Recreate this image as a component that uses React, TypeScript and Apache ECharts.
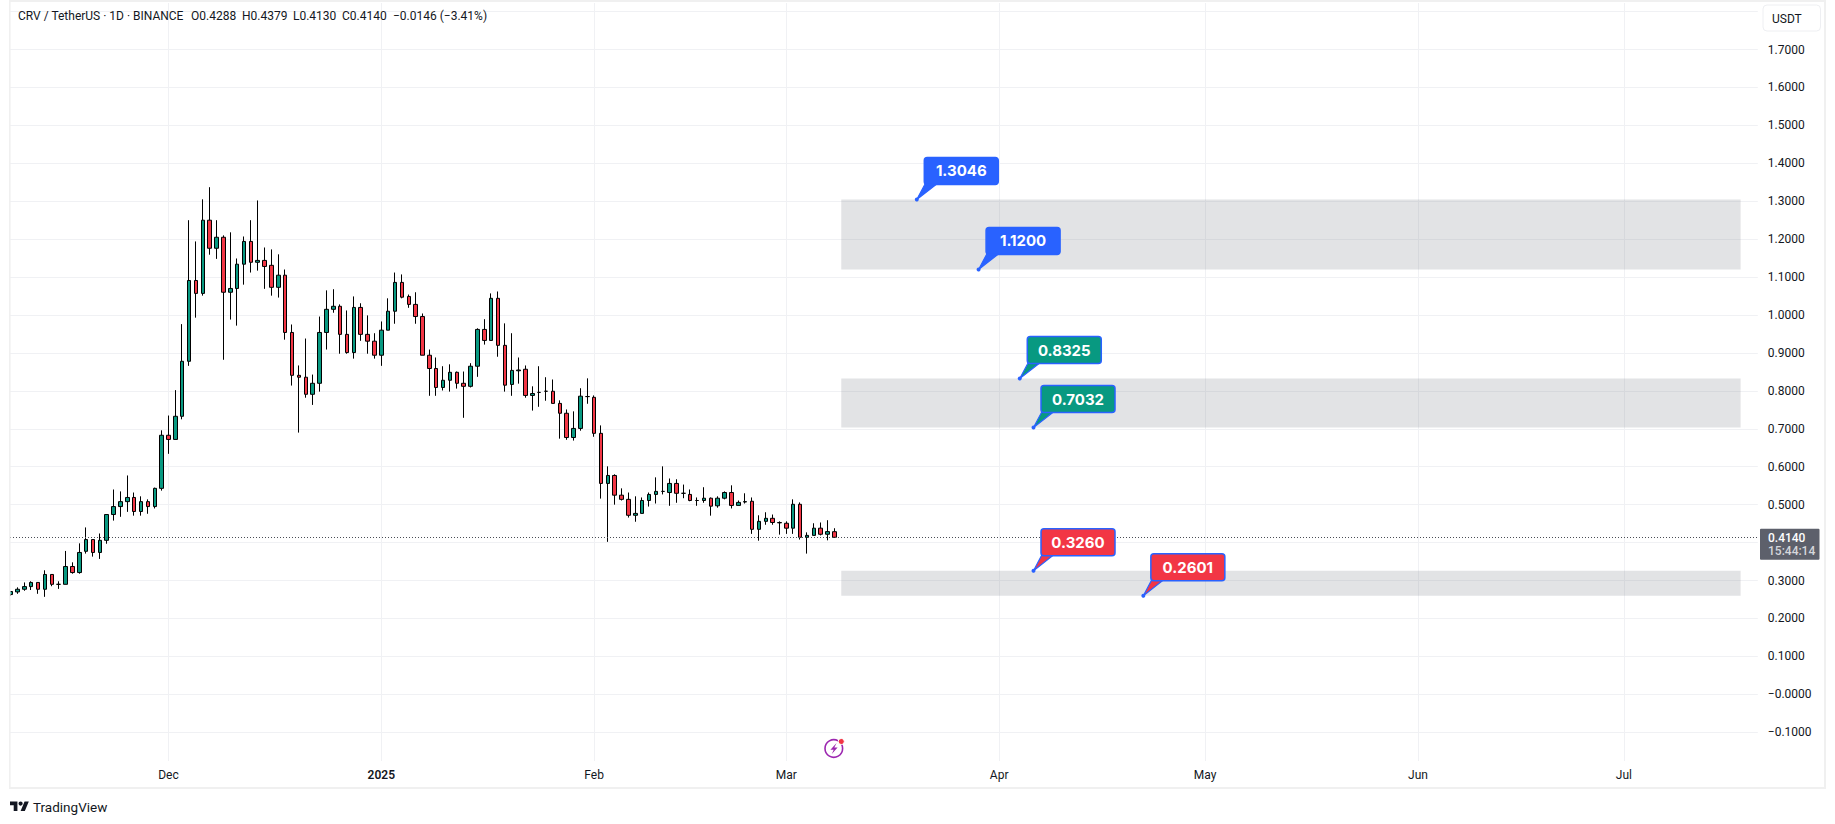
import { useEffect, useRef } from 'react';
import * as echarts from 'echarts';

// first bar is 8 Nov 2024, axis runs on into the empty future part
const firstDay = Date.UTC(2024, 10, 8);
const dayCount = 255;
const categories = Array.from({ length: dayCount }, (_, i) =>
  new Date(firstDay + i * 86400000).toISOString().slice(0, 10),
);

const monthLabels: Record<string, string> = {
  '2024-12-01': 'Dec',
  '2025-01-01': '2025',
  '2025-02-01': 'Feb',
  '2025-03-01': 'Mar',
  '2025-04-01': 'Apr',
  '2025-05-01': 'May',
  '2025-06-01': 'Jun',
  '2025-07-01': 'Jul',
};

const opens = [
  0.263, 0.27, 0.277, 0.284, 0.295, 0.277, 0.316, 0.29, 0.29, 0.337, 0.321, 0.377, 0.408, 0.374, 0.406, 0.474,
  0.495, 0.508, 0.519, 0.482, 0.508, 0.495, 0.543, 0.683, 0.672, 0.733, 0.878, 1.091, 1.057, 1.25, 1.176, 1.205,
  1.06, 1.07, 1.134, 1.194, 1.139, 1.144, 1.131, 1.073, 1.105, 0.954, 0.841, 0.836, 0.791, 0.82, 0.954, 1.015,
  1.023, 0.949, 0.901, 1.02, 0.949, 0.931, 0.894, 0.96, 1.01, 1.086, 1.049, 1.028, 0.996, 0.894, 0.859, 0.809,
  0.828, 0.849, 0.82, 0.812, 0.865, 0.962, 0.933, 1.044, 0.92, 0.817, 0.853, 0.857, 0.788, 0.796, 0.799, 0.799,
  0.767, 0.741, 0.677, 0.701, 0.785, 0.783, 0.688, 0.556, 0.577, 0.525, 0.514, 0.472, 0.477, 0.511, 0.527, 0.535,
  0.532, 0.556, 0.53, 0.527, 0.511, 0.511, 0.517, 0.497, 0.517, 0.532, 0.498, 0.507, 0.509, 0.435, 0.456, 0.464,
  0.453, 0.451, 0.438, 0.501, 0.414, 0.419, 0.438, 0.422, 0.4288,
];
const closes = [
  0.271, 0.277, 0.284, 0.295, 0.277, 0.316, 0.29, 0.29, 0.337, 0.321, 0.374, 0.408, 0.374, 0.406, 0.474, 0.495,
  0.508, 0.519, 0.482, 0.508, 0.495, 0.543, 0.683, 0.672, 0.733, 0.878, 1.091, 1.057, 1.25, 1.176, 1.205, 1.06,
  1.07, 1.134, 1.194, 1.139, 1.144, 1.128, 1.073, 1.105, 0.954, 0.841, 0.836, 0.791, 0.82, 0.954, 1.015, 1.023,
  0.949, 0.901, 1.02, 0.949, 0.931, 0.894, 0.96, 1.01, 1.086, 1.047, 1.028, 0.996, 0.894, 0.859, 0.809, 0.828,
  0.849, 0.82, 0.812, 0.865, 0.962, 0.933, 1.044, 0.92, 0.815, 0.854, 0.855, 0.788, 0.793, 0.796, 0.799, 0.767,
  0.741, 0.677, 0.701, 0.786, 0.785, 0.688, 0.556, 0.577, 0.525, 0.514, 0.472, 0.477, 0.511, 0.527, 0.535, 0.535,
  0.556, 0.53, 0.53, 0.511, 0.511, 0.517, 0.496, 0.517, 0.532, 0.498, 0.506, 0.508, 0.435, 0.456, 0.464, 0.453,
  0.452, 0.438, 0.501, 0.414, 0.419, 0.438, 0.422, 0.429, 0.414,
];
const lows = [
  0.26, 0.265, 0.273, 0.275, 0.265, 0.257, 0.285, 0.278, 0.29, 0.318, 0.318, 0.371, 0.363, 0.357, 0.397, 0.458,
  0.468, 0.481, 0.471, 0.471, 0.476, 0.49, 0.537, 0.634, 0.672, 0.725, 0.866, 0.993, 1.051, 1.159, 1.148, 0.882,
  0.988, 0.972, 1.08, 1.112, 1.117, 1.069, 1.051, 1.046, 0.935, 0.814, 0.69, 0.782, 0.763, 0.798, 0.909, 1.006,
  0.898, 0.898, 0.885, 0.932, 0.898, 0.885, 0.866, 0.96, 0.977, 1.044, 1.019, 0.977, 0.894, 0.787, 0.787, 0.801,
  0.798, 0.806, 0.729, 0.809, 0.837, 0.922, 0.933, 0.89, 0.798, 0.787, 0.819, 0.782, 0.748, 0.758, 0.774, 0.767,
  0.674, 0.671, 0.669, 0.695, 0.766, 0.679, 0.516, 0.402, 0.5, 0.511, 0.466, 0.455, 0.477, 0.495, 0.503, 0.527,
  0.497, 0.505, 0.517, 0.509, 0.497, 0.505, 0.471, 0.492, 0.514, 0.49, 0.498, 0.503, 0.423, 0.405, 0.447, 0.447,
  0.421, 0.423, 0.423, 0.408, 0.371, 0.419, 0.419, 0.406, 0.413,
];
const highs = [
  0.271, 0.282, 0.295, 0.298, 0.295, 0.327, 0.316, 0.298, 0.378, 0.348, 0.398, 0.44, 0.408, 0.424, 0.474, 0.54,
  0.535, 0.577, 0.532, 0.522, 0.514, 0.545, 0.696, 0.735, 0.802, 0.976, 1.25, 1.194, 1.305, 1.337, 1.25, 1.21,
  1.218, 1.149, 1.207, 1.25, 1.302, 1.178, 1.173, 1.16, 1.12, 0.975, 0.867, 0.938, 0.843, 0.996, 1.065, 1.068,
  1.028, 1.012, 1.049, 1.031, 0.999, 0.952, 0.983, 1.044, 1.112, 1.107, 1.054, 1.06, 1.004, 0.909, 0.888, 0.865,
  0.87, 0.851, 0.851, 0.873, 0.965, 0.989, 1.057, 1.062, 0.978, 0.952, 0.888, 0.867, 0.812, 0.865, 0.836, 0.83,
  0.775, 0.751, 0.746, 0.807, 0.833, 0.788, 0.709, 0.601, 0.58, 0.543, 0.532, 0.522, 0.519, 0.532, 0.572, 0.601,
  0.569, 0.567, 0.553, 0.54, 0.519, 0.546, 0.519, 0.522, 0.535, 0.551, 0.511, 0.53, 0.519, 0.472, 0.48, 0.474,
  0.456, 0.456, 0.514, 0.506, 0.427, 0.451, 0.453, 0.459, 0.4379,
];

const lastClose = 0.414;
const lastIndex = 120;

const yTicks = [1.8, 1.7, 1.6, 1.5, 1.4, 1.3, 1.2, 1.1, 1, 0.9, 0.8, 0.7, 0.6, 0.5, 0.4, 0.3, 0.2, 0.1, 0, -0.1];
const yLabels = [
  '', '1.7000', '1.6000', '1.5000', '1.4000', '1.3000', '1.2000', '1.1000', '1.0000', '0.9000', '0.8000',
  '0.7000', '0.6000', '0.5000', '', '0.3000', '0.2000', '0.1000', '\u22120.0000', '\u22120.1000',
];

// grey boxes: [top price, bottom price]
const zones = [
  [1.3046, 1.12],
  [0.8325, 0.7032],
  [0.326, 0.2601],
];
const zoneStart = 121;
const zoneEnd = 252;

// callouts: anchor bar, price, text
const calloutBars = [132, 141, 147, 149, 149, 165];
const calloutPrices = [1.3046, 1.12, 0.8325, 0.7032, 0.326, 0.2601];
const calloutTexts = ['1.3046', '1.1200', '0.8325', '0.7032', '0.3260', '0.2601'];
const calloutFills = ['#2962ff', '#2962ff', '#089981', '#089981', '#f23645', '#f23645'];

const headerParts: [string, number][] = [
  ['CRV / TetherUS \u00b7 1D \u00b7 BINANCE', 18],
  ['O0.4288', 191],
  ['H0.4379', 242],
  ['L0.4130', 293],
  ['C0.4140', 342],
  ['\u22120.0146 (\u22123.41%)', 393],
];

const FONT = 'Roboto, "Noto Sans", sans-serif';
const INK = '#131722';
const GRID = '#f0f1f4';
const FRAME = '#f0f0f0';
const BLUE = '#2962ff';

echarts.graphic.registerShape(
  'tvLogo',
  echarts.graphic.extendPath('M14 22H7V11H0V4h14v18zM28 22h-8l7.5-18h8L28 22zM24 8a4 4 0 1 1-8 0a4 4 0 1 1 8 0z', {}),
);

function renderCallout(params: any, api: any) {
  const i = params.dataIndex;
  const [x, y] = api.coord([api.value(0), api.value(1)]);
  const fill = calloutFills[i];
  const bx = x + 7.5;
  const by = y - 42;
  return {
    type: 'group',
    children: [
      {
        type: 'polygon',
        shape: { points: [[x, y], [bx + 1, by + 26], [bx + 13, by + 26]] },
        style: { fill, stroke: BLUE, lineWidth: 1.2 },
      },
      {
        type: 'rect',
        shape: { x: bx, y: by, width: 74, height: 27, r: 3 },
        style: { fill, stroke: BLUE, lineWidth: 1.5 },
      },
      {
        type: 'text',
        style: {
          x: bx + 37,
          y: by + 13.5,
          text: calloutTexts[i],
          fill: '#ffffff',
          align: 'center',
          verticalAlign: 'middle',
          font: '700 15px Inter, sans-serif',
        },
      },
      { type: 'circle', shape: { cx: x, cy: y, r: 2 }, style: { fill: BLUE } },
    ],
  };
}

// dotted last-price line and its tag on the price scale
function renderPriceTag(_params: any, api: any) {
  const y = api.coord([api.value(0), api.value(1)])[1];
  const lineY = Math.floor(y) + 0.5;
  return {
    type: 'group',
    children: [
      {
        type: 'line',
        shape: { x1: 10, y1: lineY, x2: 1757.8, y2: lineY },
        style: { stroke: '#4a4d55', lineWidth: 1, lineDash: [1, 2] },
      },
      { type: 'rect', shape: { x: 1760, y: y - 8.5, width: 59.5, height: 31, r: 1 }, style: { fill: '#5d606b' } },
      {
        type: 'text',
        style: { x: 1768, y: y + 0.5, text: lastClose.toFixed(4), fill: '#ffffff', verticalAlign: 'middle', font: `500 12px ${FONT}` },
      },
      {
        type: 'text',
        style: { x: 1768, y: y + 14, text: '15:44:14', fill: '#d6d7db', verticalAlign: 'middle', font: `500 12px ${FONT}` },
      },
    ],
  };
}

export default function App() {
  const chartRef = useRef<HTMLDivElement>(null);

  useEffect(() => {
    if (!chartRef.current) return;
    const chart = echarts.init(chartRef.current, null, { renderer: 'svg' });

    chart.setOption({
      animation: false,
      backgroundColor: '#ffffff',
      textStyle: { fontFamily: FONT },
      grid: { left: 7.17, top: 3, width: 1750.6, height: 758 },
      xAxis: {
        type: 'category',
        data: categories,
        boundaryGap: true,
        axisLine: { show: false },
        axisTick: { show: false, alignWithLabel: true },
        axisLabel: {
          interval: (_i: number, v: string) => v in monthLabels,
          formatter: (v: string) => (v === '2025-01-01' ? `{year|${monthLabels[v]}}` : monthLabels[v] ?? ''),
          color: INK,
          fontSize: 12,
          margin: 8,
          rich: { year: { fontWeight: 600, fontSize: 12, color: INK } },
        },
        splitLine: {
          show: true,
          alignWithLabel: true,
          interval: (_i: number, v: string) => v in monthLabels,
          lineStyle: { color: GRID, width: 1 },
        },
      },
      yAxis: {
        type: 'value',
        position: 'right',
        min: -0.1758,
        max: 1.8226,
        scale: true,
        axisLine: { show: false },
        axisTick: { show: false, customValues: yTicks },
        axisLabel: {
          customValues: yTicks,
          formatter: (v: number) => yLabels[yTicks.indexOf(v)] ?? '',
          color: INK,
          fontSize: 12,
          margin: 10,
        },
        splitLine: { show: true, lineStyle: { color: GRID, width: 1 } },
      },
      series: [
        {
          type: 'candlestick',
          barWidth: 4,
          itemStyle: {
            color: '#089981',
            color0: '#f23645',
            borderColor: '#000000',
            borderColor0: '#000000',
            borderWidth: 1,
          },
          data: opens.map((o, i) => [o, closes[i], lows[i], highs[i]]),
          markArea: {
            silent: true,
            itemStyle: { color: 'rgba(120,123,134,0.21)', borderWidth: 0 },
            data: zones.map(([top, bottom]) => [
              { xAxis: categories[zoneStart], yAxis: top },
              { xAxis: categories[zoneEnd], yAxis: bottom },
            ]),
          },
        },
        {
          type: 'custom',
          renderItem: renderPriceTag,
          encode: { x: 0, y: 1 },
          z: 5,
          data: [[lastIndex, lastClose]],
        },
        {
          type: 'custom',
          renderItem: renderCallout,
          encode: { x: 0, y: 1 },
          z: 6,
          data: calloutBars.map((b, i) => [b, calloutPrices[i]]),
        },
      ],
      graphic: [
        // left of the pane, hides what sticks out of the first bar
        { type: 'rect', z: 100, shape: { x: 0, y: 0, width: 9, height: 790 }, style: { fill: '#ffffff' } },
        { type: 'rect', z: 101, shape: { x: 9, y: 0, width: 1.6, height: 789 }, style: { fill: FRAME } },
        { type: 'rect', z: 101, shape: { x: 9, y: 0, width: 1817, height: 2 }, style: { fill: FRAME } },
        { type: 'rect', z: 101, shape: { x: 1824, y: 0, width: 2, height: 789 }, style: { fill: FRAME } },
        { type: 'rect', z: 101, shape: { x: 9, y: 787, width: 1817, height: 2 }, style: { fill: FRAME } },
        ...headerParts.map(([text, x]) => ({
          type: 'text',
          z: 102,
          style: { x, y: 16, text, fill: INK, verticalAlign: 'middle', font: `12px ${FONT}` },
        })),
        {
          type: 'rect',
          z: 102,
          shape: { x: 1763, y: 5, width: 57.5, height: 26, r: 4 },
          style: { fill: '#ffffff', stroke: '#eeeff2', lineWidth: 1 },
        },
        {
          type: 'text',
          z: 103,
          style: { x: 1772, y: 18.5, text: 'USDT', fill: INK, verticalAlign: 'middle', font: `12px ${FONT}` },
        },
        // bolt badge
        {
          type: 'circle',
          z: 102,
          shape: { cx: 833.8, cy: 748.5, r: 8.8 },
          style: { fill: '#ffffff', stroke: '#9c27b0', lineWidth: 1.6 },
        },
        {
          type: 'polygon',
          z: 103,
          shape: {
            points: [[836.6, 743], [830.4, 749.7], [833.7, 749.7], [831.8, 754.1], [837.6, 747.4], [834.3, 747.4]],
          },
          style: { fill: '#9c27b0' },
        },
        {
          type: 'circle',
          z: 103,
          shape: { cx: 841.3, cy: 741.5, r: 3 },
          style: { fill: '#f23645', stroke: '#ffffff', lineWidth: 1 },
        },
        // logo
        { type: 'tvLogo', z: 102, x: 10, y: 799.3, scaleX: 0.53, scaleY: 0.53, style: { fill: INK } },
        {
          type: 'text',
          z: 102,
          style: { x: 33, y: 807, text: 'TradingView', fill: INK, verticalAlign: 'middle', font: `13.5px ${FONT}` },
        },
      ],
    });

    return () => {
      chart.dispose();
    };
  }, []);

  return <div ref={chartRef} style={{ position: 'fixed', left: 0, top: 0, width: 1835, height: 824 }} />;
}
